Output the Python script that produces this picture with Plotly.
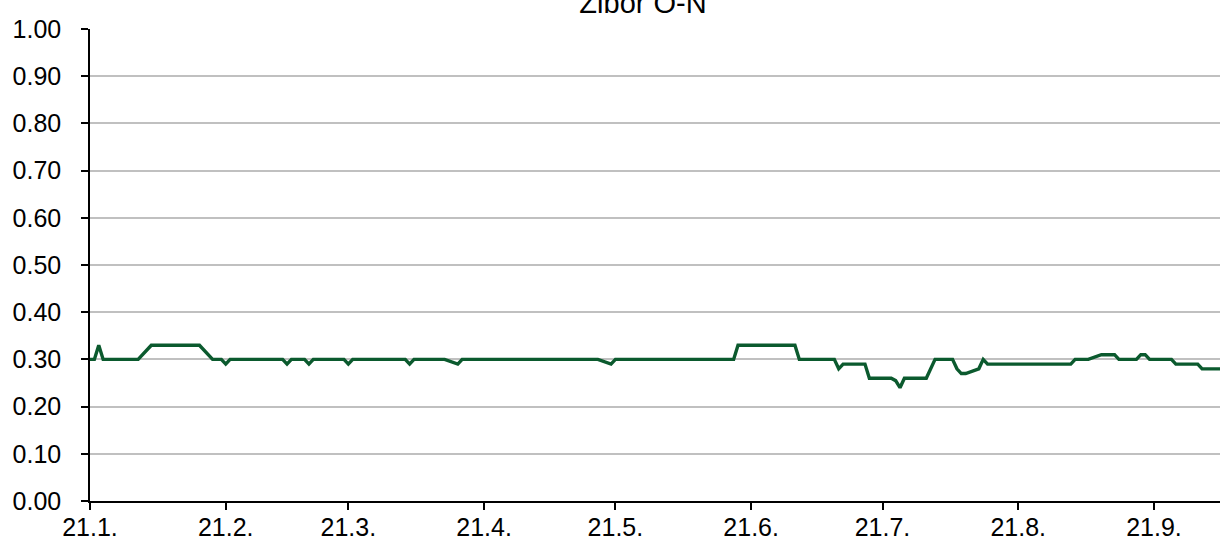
import plotly.graph_objects as go

# Zibor O-N fixing points (business days where the curve changes)
dates = [
    "2021-01-04", "2021-01-05", "2021-01-06", "2021-01-07", "2021-01-15", "2021-01-18",
    "2021-01-29", "2021-02-01", "2021-02-03", "2021-02-04", "2021-02-05", "2021-02-17",
    "2021-02-18", "2021-02-19", "2021-02-22", "2021-02-23", "2021-02-24", "2021-03-03",
    "2021-03-04", "2021-03-05", "2021-03-17", "2021-03-18", "2021-03-19", "2021-03-26",
    "2021-03-29", "2021-03-30", "2021-04-30", "2021-05-03", "2021-05-04", "2021-05-31",
    "2021-06-01", "2021-06-14", "2021-06-15", "2021-06-23", "2021-06-24", "2021-06-25",
    "2021-06-30", "2021-07-01", "2021-07-06", "2021-07-07", "2021-07-08", "2021-07-09",
    "2021-07-14", "2021-07-15", "2021-07-16", "2021-07-20", "2021-07-21", "2021-07-22",
    "2021-07-23", "2021-07-26", "2021-07-27", "2021-07-28", "2021-08-16", "2021-08-17",
    "2021-08-20", "2021-08-23", "2021-08-26", "2021-08-27", "2021-08-31", "2021-09-01",
    "2021-09-02", "2021-09-03", "2021-09-08", "2021-09-09", "2021-09-14", "2021-09-15",
    "2021-09-20",
]
values = [
    0.30, 0.30, 0.33, 0.30, 0.30, 0.33,
    0.33, 0.30, 0.30, 0.29, 0.30, 0.30,
    0.29, 0.30, 0.30, 0.29, 0.30, 0.30,
    0.29, 0.30, 0.30, 0.29, 0.30, 0.30,
    0.29, 0.30, 0.30, 0.29, 0.30, 0.30,
    0.33, 0.33, 0.30, 0.30, 0.28, 0.29,
    0.29, 0.26, 0.26, 0.255, 0.24, 0.26,
    0.26, 0.28, 0.30, 0.30, 0.28, 0.27,
    0.27, 0.28, 0.30, 0.29, 0.29, 0.30,
    0.30, 0.31, 0.31, 0.30, 0.30, 0.31,
    0.31, 0.30, 0.30, 0.29, 0.29, 0.28,
    0.28,
]

tick_dates = ["2021-01-04", "2021-02-04", "2021-03-04", "2021-04-04", "2021-05-04",
              "2021-06-04", "2021-07-04", "2021-08-04", "2021-09-04"]
tick_labels = ["21.1.", "21.2.", "21.3.", "21.4.", "21.5.", "21.6.", "21.7.", "21.8.", "21.9."]
y_ticks = [0.0, 0.1, 0.2, 0.3, 0.4, 0.5, 0.6, 0.7, 0.8, 0.9, 1.0]

title_text = "Zibor O-N"

fig = go.Figure()
fig.add_trace(go.Scatter(
    x=dates, y=values, mode="lines",
    line=dict(color="#0b5a2e", width=3.4),
    hoverinfo="x+y", showlegend=False,
))

font_family = "Liberation Sans, Arial, sans-serif"

fig.update_layout(
    width=1220, height=551,
    margin=dict(l=90, r=0, t=29, b=50, autoexpand=False),
    paper_bgcolor="white", plot_bgcolor="white",
    font=dict(family=font_family, size=25, color="black"),
    title=dict(text=title_text, x=643 / 1220, xanchor="center",
               y=1 - 3 / 551, yanchor="middle", yref="container",
               font=dict(family=font_family, size=29, color="black")),
    xaxis=dict(
        type="date",
        range=["2021-01-04", "2021-09-19 02:00"],
        tickmode="array", tickvals=tick_dates, ticktext=tick_labels,
        showgrid=False, zeroline=False,
        showline=True, linecolor="black", linewidth=1.5,
        ticks="outside", ticklen=7, tickwidth=1.5, tickcolor="black",
        ticklabelstandoff=-4,
        tickfont=dict(size=25),
    ),
    yaxis=dict(
        range=[0, 1], tickmode="array", tickvals=y_ticks,
        tickformat=".2f",
        showgrid=True, gridcolor="#c0c0c0", gridwidth=1.5,
        zeroline=False,
        showline=True, linecolor="black", linewidth=1.5,
        ticks="outside", ticklen=7, tickwidth=1.5, tickcolor="black",
        ticklabelstandoff=15,
        tickfont=dict(size=25),
    ),
)

fig.write_html("out.html", config={"displayModeBar": False},
               post_script="document.body.style.margin='0px';")
